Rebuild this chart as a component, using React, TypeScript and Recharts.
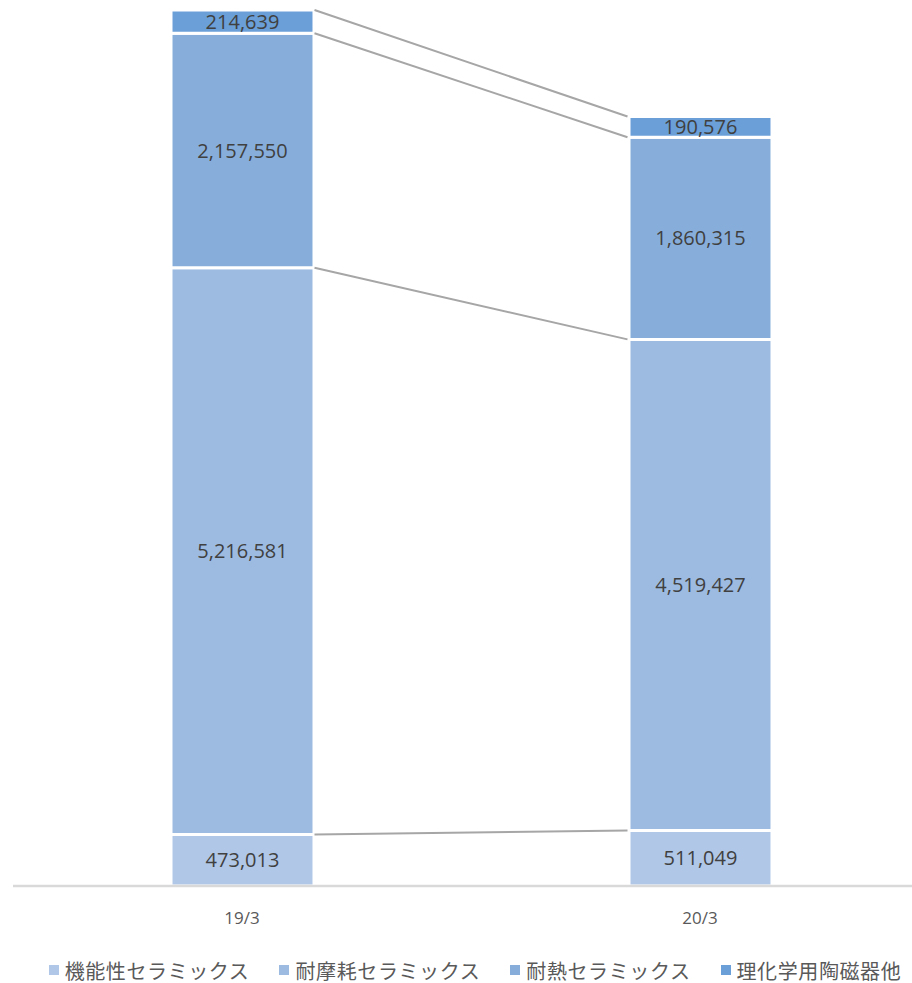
import React from 'react';
import { BarChart, Bar, XAxis, YAxis, Legend, LabelList, ReferenceLine } from 'recharts';

const periods = ['19/3', '20/3'];
const seriesNames = ['機能性セラミックス', '耐摩耗セラミックス', '耐熱セラミックス', '理化学用陶磁器他'];
const functional = [473013, 511049];
const wearResistant = [5216581, 4519427];
const heatResistant = [2157550, 1860315];
const labware = [214639, 190576];

const COLORS = ['#B0C7E7', '#9DBBE1', '#87AEDB', '#6A9FD8'];
const BAR_SIZE = 143;

const seriesValues = [functional, wearResistant, heatResistant, labware];

const data = periods.map((p, i) => ({
  name: p,
  s0: functional[i],
  s1: wearResistant[i],
  s2: heatResistant[i],
  s3: labware[i],
}));

// cumulative top of every segment, per period
const cumTops = periods.map((_, i) => {
  let acc = 0;
  return seriesValues.map(arr => (acc += arr[i]));
});

const fmt = (v: any) => Number(v).toLocaleString('en-US');

const connector = (props: any) => {
  const { x1, y1, x2, y2 } = props;
  const half = BAR_SIZE / 2 + 1;
  return (
    <line
      x1={x1 + half}
      y1={y1}
      x2={x2 - half}
      y2={y2}
      stroke="#A6A6A6"
      strokeWidth={2}
    />
  );
};

const renderLegend = () => (
  <div
    style={{
      display: 'flex',
      justifyContent: 'center',
      alignItems: 'center',
      gap: 30,
      height: 26,
      fontFamily: 'Noto Sans CJK JP',
      fontSize: 20,
      letterSpacing: 0.6,
      color: '#595959',
      paddingLeft: 8,
    }}
  >
    {seriesNames.map((n, k) => (
      <div key={n} style={{ display: 'flex', alignItems: 'center', whiteSpace: 'nowrap' }}>
        <span style={{ width: 10, height: 10, background: COLORS[k], marginRight: 6, display: 'inline-block' }} />
        <span>{n}</span>
      </div>
    ))}
  </div>
);

const App: React.FC = () => {
  return (
    <div style={{ width: 912, height: 983, overflow: 'hidden', position: 'relative' }}>
      <style>{'body{margin:0}'}</style>
      <BarChart
        width={929}
        height={983}
        data={data}
        margin={{ top: 10, right: 0, left: 13, bottom: 0 }}
        barSize={BAR_SIZE}
      >
        <XAxis
          dataKey="name"
          axisLine={{ stroke: '#D9D9D9', strokeWidth: 2.5 }}
          tickLine={false}
          tickMargin={20}
          height={71}
          tick={{ fontSize: 17, fill: '#595959', fontFamily: 'Open Sans' }}
        />
        <YAxis hide domain={[0, 'dataMax']} />
        {seriesNames.map((n, k) => (
          <Bar
            key={n}
            dataKey={`s${k}`}
            name={n}
            stackId="a"
            fill={COLORS[k]}
            stroke="#FFFFFF"
            strokeWidth={3}
            isAnimationActive={false}
          >
            <LabelList
              dataKey={`s${k}`}
              position="center"
              formatter={fmt}
              style={{ fill: '#404040', fontSize: 20, fontFamily: 'Open Sans' }}
            />
          </Bar>
        ))}
        {seriesNames.map((n, k) => (
          <ReferenceLine
            key={`c-${n}`}
            ifOverflow="visible"
            segment={[
              { x: periods[0], y: cumTops[0][k] },
              { x: periods[1], y: cumTops[1][k] },
            ]}
            shape={connector}
          />
        ))}
        <Legend verticalAlign="bottom" height={26} content={renderLegend} />
      </BarChart>
    </div>
  );
};

export default App;
